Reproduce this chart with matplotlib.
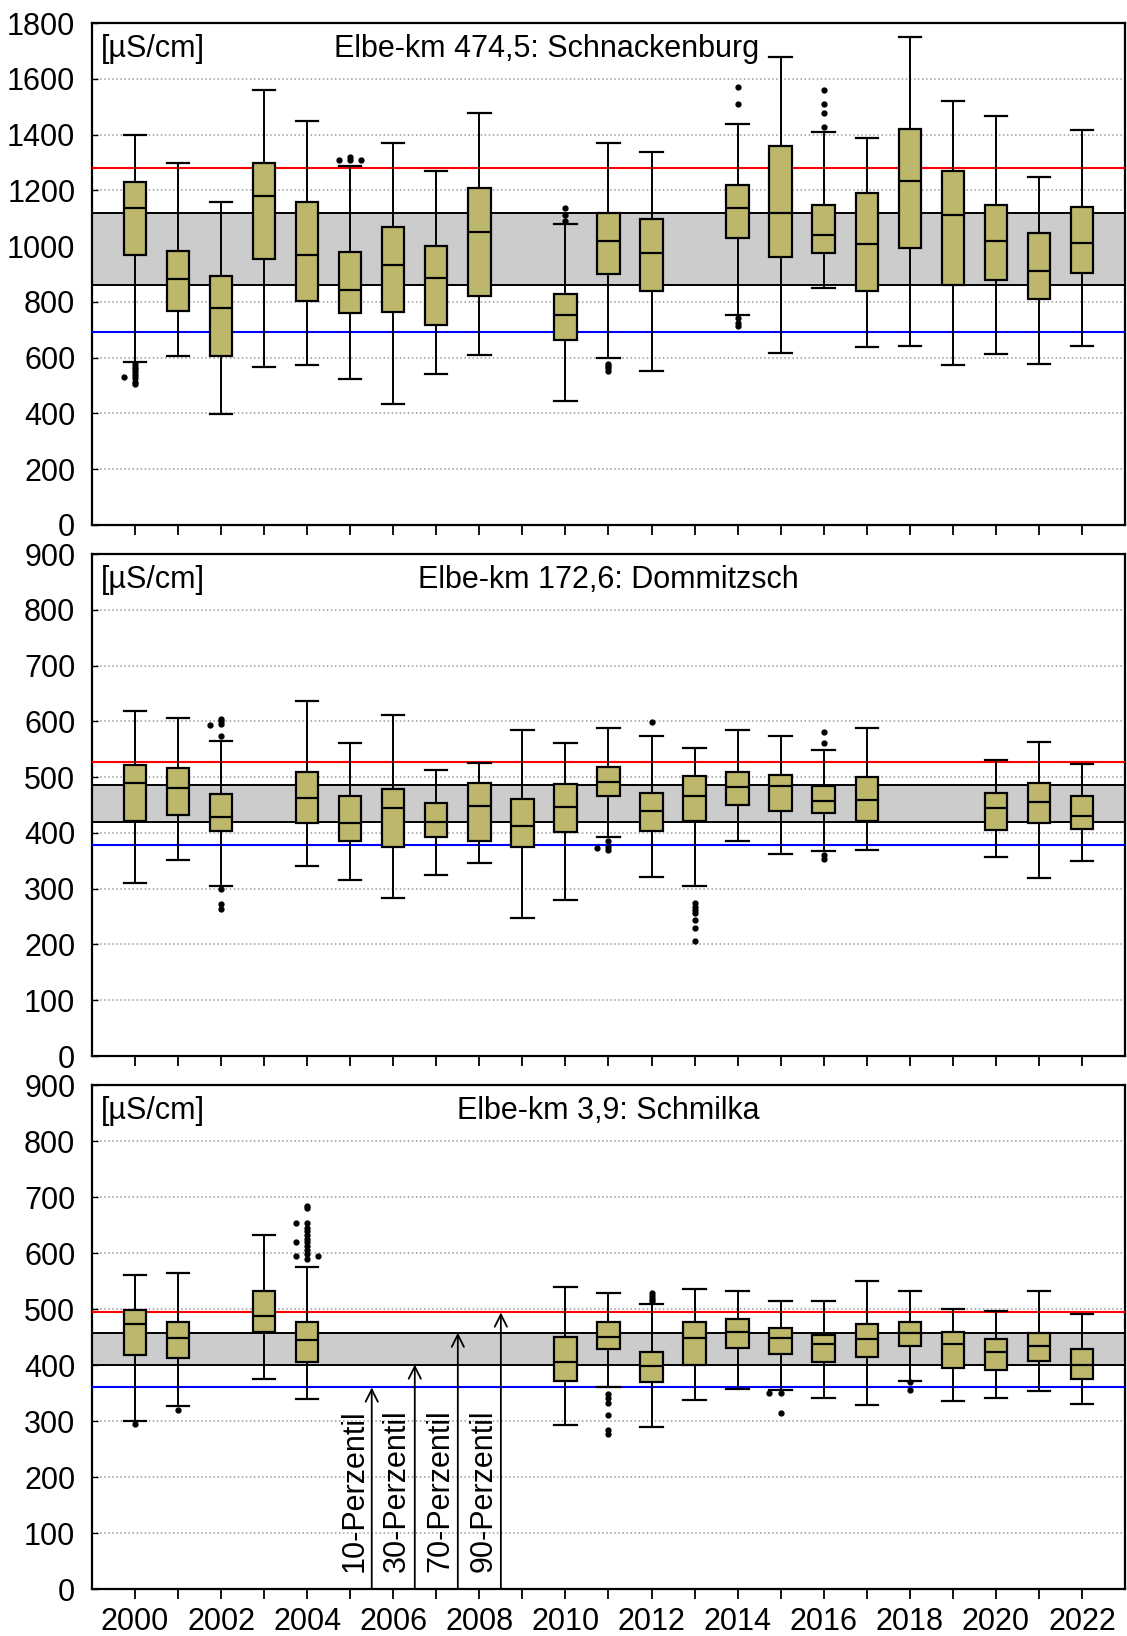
import matplotlib.pyplot as plt

plt.rcParams['font.family'] = ['Liberation Sans', 'DejaVu Sans']
plt.rcParams['font.size'] = 22

# --- Elbe-km 474,5: Schnackenburg ---
sch_years = [2000, 2001, 2002, 2003, 2004, 2005, 2006, 2007, 2008, 2010, 2011,
             2012, 2014, 2015, 2016, 2017, 2018, 2019, 2020, 2021, 2022]
sch_low = [583, 607, 398, 565, 572, 522, 433, 540, 608, 445, 599,
           552, 752, 618, 849, 640, 642, 572, 614, 577, 642]
sch_q1 = [969, 769, 607, 955, 804, 759, 763, 718, 822, 662, 900,
          838, 1029, 960, 974, 838, 993, 862, 879, 811, 904]
sch_med = [1138, 883, 778, 1179, 970, 841, 933, 886, 1049, 752, 1017,
           974, 1138, 1119, 1039, 1008, 1234, 1110, 1017, 910, 1010]
sch_q3 = [1229, 981, 894, 1299, 1158, 978, 1069, 999, 1208, 827, 1118,
          1099, 1218, 1359, 1148, 1189, 1420, 1270, 1148, 1048, 1142]
sch_high = [1399, 1299, 1158, 1561, 1449, 1287, 1371, 1270, 1479, 1079, 1370,
            1339, 1439, 1680, 1410, 1388, 1751, 1519, 1467, 1249, 1415]
sch_out = {2000: [579, 568, 558, 548, 538, 526, 514, 504], 2005: [1318, 1309],
           2010: [1138, 1110, 1090], 2011: [578, 570, 562, 553],
           2014: [1571, 1510, 742, 724, 714], 2016: [1560, 1510, 1479, 1428]}
sch_side = {2000: [(530, -1)], 2005: [(1309, -1), (1309, 1)]}
sch_pct = [692, 860, 1118, 1280]   # 10, 30, 70, 90 percentile

# --- Elbe-km 172,6: Dommitzsch ---
dom_years = [2000, 2001, 2002, 2004, 2005, 2006, 2007, 2008, 2009, 2010,
             2011, 2012, 2013, 2014, 2015, 2016, 2017, 2020, 2021, 2022]
dom_low = [310, 351, 305, 341, 316, 283, 324, 346, 248, 279,
           392, 321, 305, 385, 362, 367, 370, 356, 320, 350]
dom_q1 = [421, 432, 404, 418, 385, 375, 393, 385, 375, 402,
          467, 404, 421, 451, 439, 435, 422, 405, 418, 407]
dom_med = [490, 481, 429, 462, 418, 444, 420, 449, 413, 446,
           491, 439, 467, 483, 484, 457, 459, 444, 456, 431]
dom_q3 = [522, 516, 469, 509, 466, 478, 453, 489, 461, 488,
          518, 471, 502, 510, 504, 484, 500, 471, 490, 466]
dom_high = [618, 607, 564, 636, 562, 612, 512, 526, 585, 561,
            588, 573, 552, 585, 573, 549, 588, 531, 563, 523]
dom_out = {2002: [604, 600, 596, 574, 300, 273, 263], 2011: [386, 375, 369],
           2012: [599], 2013: [274, 268, 262, 256, 244, 230, 207],
           2016: [581, 561, 361, 353]}
dom_side = {2002: [(593, -1)], 2011: [(373, -1)]}
dom_pct = [379, 420, 486, 527]

# --- Elbe-km 3,9: Schmilka ---
smi_years = [2000, 2001, 2003, 2004, 2010, 2011, 2012, 2013, 2014,
             2015, 2016, 2017, 2018, 2019, 2020, 2021, 2022]
smi_low = [301, 327, 375, 339, 293, 360, 289, 337, 358, 355, 341, 329, 372, 335, 341, 353, 331]
smi_q1 = [418, 413, 460, 405, 372, 428, 369, 401, 430, 419, 405, 414, 434, 394, 392, 407, 375]
smi_med = [473, 448, 488, 445, 405, 451, 399, 449, 460, 449, 437, 447, 458, 437, 423, 435, 401]
smi_q3 = [498, 477, 533, 477, 451, 477, 424, 477, 483, 466, 454, 474, 477, 460, 447, 457, 428]
smi_high = [561, 564, 633, 575, 540, 528, 509, 536, 533, 515, 514, 550, 533, 501, 497, 533, 491]
smi_out = {2000: [295], 2001: [320],
           2004: [684, 680, 654, 645, 639, 632, 625, 619, 612, 606, 599, 589],
           2011: [349, 342, 333, 310, 284, 277], 2012: [528, 523, 518, 514],
           2015: [350, 315], 2018: [370, 356]}
smi_side = {2004: [(654, -1), (619, -1), (595, -1), (595, 1)], 2015: [(350, -1)]}
smi_pct = [360, 401, 458, 494]

pct_labels = ['10-Perzentil', '30-Perzentil', '70-Perzentil', '90-Perzentil']

panels = [
    ('Elbe-km 474,5: Schnackenburg', 0.44, sch_years, sch_low, sch_q1, sch_med, sch_q3,
     sch_high, sch_out, sch_side, sch_pct, 1800, 200),
    ('Elbe-km 172,6: Dommitzsch', 0.50, dom_years, dom_low, dom_q1, dom_med, dom_q3,
     dom_high, dom_out, dom_side, dom_pct, 900, 100),
    ('Elbe-km 3,9: Schmilka', 0.50, smi_years, smi_low, smi_q1, smi_med, smi_q3,
     smi_high, smi_out, smi_side, smi_pct, 900, 100),
]

rects = [[0.0816, 0.6791, 0.9166, 0.3068],
         [0.0816, 0.3545, 0.9166, 0.3068],
         [0.0816, 0.0287, 0.9166, 0.3080]]

fig = plt.figure(figsize=(11.27, 16.36), dpi=100)
box_w = 0.52

for i, (title, tx, yrs, lo, q1, med, q3, hi, out, side, pct, ymax, ystep) in enumerate(panels):
    ax = fig.add_axes(rects[i])

    stats = []
    for j, y in enumerate(yrs):
        stats.append(dict(whislo=lo[j], q1=q1[j], med=med[j], q3=q3[j],
                          whishi=hi[j], fliers=out.get(y, [])))
    ax.bxp(stats, positions=yrs, widths=box_w, capwidths=box_w, patch_artist=True,
           manage_ticks=False, zorder=5,
           boxprops=dict(facecolor='#bdb76b', edgecolor='black', linewidth=1.6),
           medianprops=dict(color='black', linewidth=1.6),
           whiskerprops=dict(color='black', linewidth=1.4),
           capprops=dict(color='black', linewidth=1.6),
           flierprops=dict(marker='o', markersize=3.5, markerfacecolor='black',
                           markeredgecolor='black'))
    for y, pts in side.items():
        for v, s in pts:
            ax.plot(y + s * 0.26, v, 'o', ms=3.5, color='black', zorder=6)

    # percentile band and lines
    ax.axhspan(pct[1], pct[2], facecolor='#cccccc', edgecolor='black',
               linewidth=1.4, zorder=2)
    ax.axhline(pct[0], color='#0000ff', linewidth=1.5, zorder=3)
    ax.axhline(pct[3], color='#ff0000', linewidth=1.5, zorder=3)

    ax.set_xlim(1999, 2023)
    ax.set_ylim(0, ymax)
    ax.set_yticks(range(0, ymax + 1, ystep))
    ax.grid(axis='y', linestyle=':', color='#9a9a9a', linewidth=1.1, zorder=1)
    ax.set_axisbelow(True)
    ax.set_xticks(range(2000, 2023))
    if i == 2:
        ax.set_xticklabels([str(y) if y % 2 == 0 else '' for y in range(2000, 2023)])
    else:
        ax.set_xticklabels([])
    ax.tick_params(axis='x', direction='out', length=7, width=1.3, pad=6)
    ax.tick_params(axis='y', direction='in', length=4, width=1.0, pad=12)
    for sp in ax.spines.values():
        sp.set_linewidth(1.6)

    ax.text(0.009, 0.948, '[µS/cm]', transform=ax.transAxes, ha='left', va='center')
    ax.text(tx, 0.948, title, transform=ax.transAxes, ha='center', va='center')

    if i == 2:
        for k, (v, lab) in enumerate(zip(pct, pct_labels)):
            xa = 2005.5 + k
            ax.annotate('', xy=(xa, v), xytext=(xa, 0),
                        arrowprops=dict(arrowstyle='->', color='black', lw=1.3,
                                        shrinkA=0, shrinkB=0), zorder=7)
            ax.text(xa - 0.06, 30, lab, rotation=90, ha='right', va='bottom')

fig.savefig('out.png', dpi=100)
